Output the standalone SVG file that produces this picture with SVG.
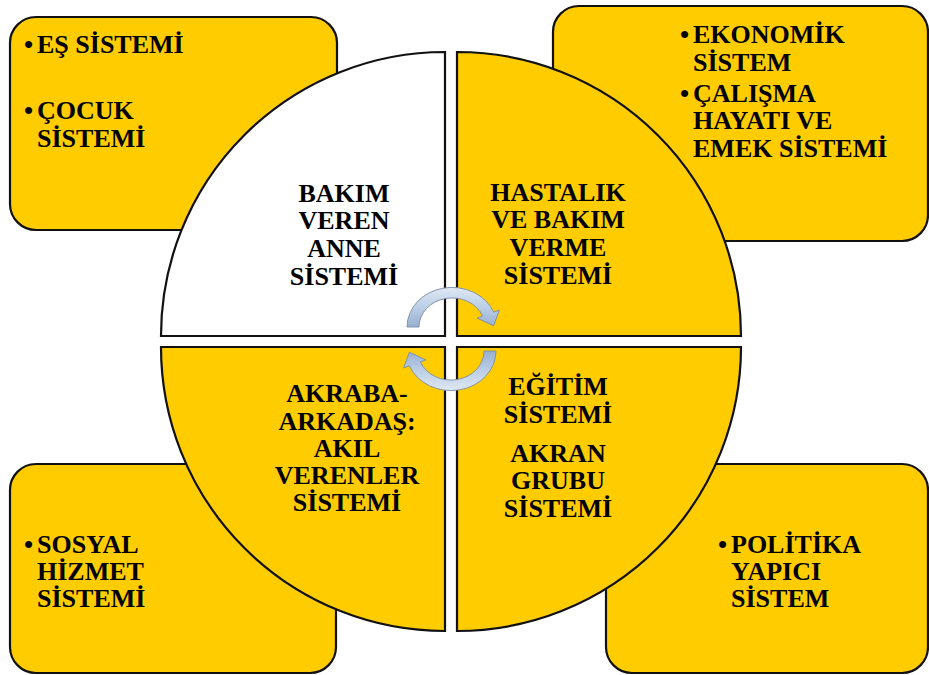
<svg xmlns="http://www.w3.org/2000/svg" width="929" height="675" viewBox="0 0 929 675">
<style>
.box{fill:#FFCC00;stroke:#111;stroke-width:2.2}
.q{stroke:#111;stroke-width:2.2}
.y{fill:#FFCC00}
.w{fill:#FFFFFF}
text{font-family:"Liberation Serif","Times New Roman",serif;font-weight:bold;font-size:26px;fill:#000}
.c{text-anchor:middle}
.arr{fill:url(#ag);stroke:#7f8fa6;stroke-width:1}
</style>
<defs>
<linearGradient id="ag" x1="0" y1="0" x2="0" y2="1">
<stop offset="0" stop-color="#dfe8f4"/>
<stop offset="0.5" stop-color="#bccfe6"/>
<stop offset="1" stop-color="#97afd0"/>
</linearGradient>
<path id="arrow" d="M-45,0 A45,45 0 0 1 41.7,-16.9 L47.3,-19.1 L41.6,-1.4 L25.1,-10.1 L30.6,-12.4 A33,33 0 0 0 -33,0 Z"/>
</defs>
<rect width="929" height="675" fill="#FFFFFF"/>

<g id="box-tl"><rect class="box" x="10" y="17" width="327" height="213" rx="26"/>
<text x="24" y="53">•</text><text x="37" y="53">EŞ SİSTEMİ</text>
<text x="24" y="119">•</text><text x="37" y="119">ÇOCUK</text><text x="37" y="147">SİSTEMİ</text></g>

<g id="box-tr"><rect class="box" x="553" y="6" width="375" height="235" rx="26"/>
<text x="680" y="43">•</text><text x="693" y="43">EKONOMİK</text><text x="693" y="71">SİSTEM</text>
<text x="680" y="102">•</text><text x="693" y="102">ÇALIŞMA</text><text x="693" y="129">HAYATI VE</text><text x="693" y="157">EMEK SİSTEMİ</text></g>

<g id="box-bl"><rect class="box" x="10" y="464" width="326" height="209" rx="26"/>
<text x="24" y="553">•</text><text x="37" y="553">SOSYAL</text><text x="37" y="580">HİZMET</text><text x="37" y="607">SİSTEMİ</text></g>

<g id="box-br"><rect class="box" x="606" y="464" width="322" height="209" rx="26"/>
<text x="718" y="553">•</text><text x="731" y="553">POLİTİKA</text><text x="731" y="580">YAPICI</text><text x="731" y="607">SİSTEM</text></g>

<g id="q-tl"><path class="q w" d="M445,336 L161,336 A284,284 0 0 1 445,52 Z"/>
<text class="c" x="344" y="202">BAKIM</text><text class="c" x="344" y="229">VEREN</text><text class="c" x="344" y="257">ANNE</text><text class="c" x="344" y="285">SİSTEMİ</text></g>

<g id="q-tr"><path class="q y" d="M457,336 L457,52 A284,284 0 0 1 741,336 Z"/>
<text class="c" x="558" y="201">HASTALIK</text><text class="c" x="558" y="228">VE BAKIM</text><text class="c" x="558" y="256">VERME</text><text class="c" x="558" y="284">SİSTEMİ</text></g>

<g id="q-bl"><path class="q y" d="M445,347 L445,631 A284,284 0 0 1 161,347 Z"/>
<text class="c" x="347" y="402">AKRABA-</text><text class="c" x="347" y="430">ARKADAŞ:</text><text class="c" x="347" y="457">AKIL</text><text class="c" x="347" y="484">VERENLER</text><text class="c" x="347" y="511">SİSTEMİ</text></g>

<g id="q-br"><path class="q y" d="M457,347 L741,347 A284,284 0 0 1 457,631 Z"/>
<text class="c" x="558" y="395">EĞİTİM</text><text class="c" x="558" y="423">SİSTEMİ</text><text class="c" x="558" y="462">AKRAN</text><text class="c" x="558" y="489">GRUBU</text><text class="c" x="558" y="517">SİSTEMİ</text></g>

<g id="connectors">
<use href="#arrow" class="arr" transform="translate(452,327) scale(1,0.88)"/>
<use href="#arrow" class="arr" transform="translate(451,351) rotate(180) scale(1,0.88)"/>
</g>
</svg>
